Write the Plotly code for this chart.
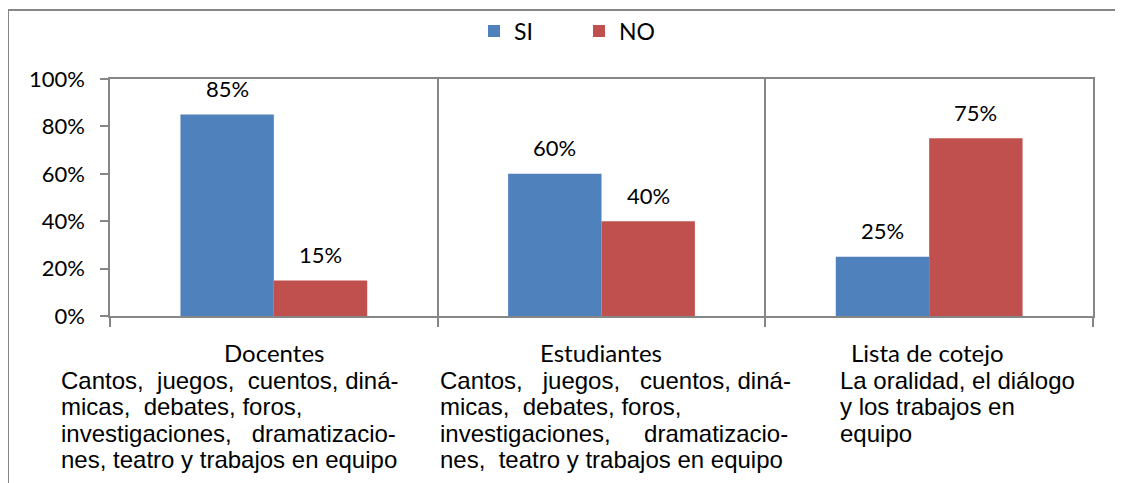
import re
import plotly.graph_objects as go

# chart data
categories = ["Docentes", "Estudiantes", "Lista de cotejo"]
si_values = [0.85, 0.60, 0.25]
no_values = [0.15, 0.40, 0.75]
series_names = ["SI", "NO"]
descriptions = [
    ["Cantos,  juegos,  cuentos, diná-",
     "micas,  debates, foros,",
     "investigaciones,   dramatizacio-",
     "nes, teatro y trabajos en equipo"],
    ["Cantos,   juegos,   cuentos, diná-",
     "micas,  debates, foros,",
     "investigaciones,     dramatizacio-",
     "nes,  teatro y trabajos en equipo"],
    ["La oralidad, el diálogo",
     "y los trabajos en",
     "equipo"],
]
ytick_vals = [0, 0.2, 0.4, 0.6, 0.8, 1.0]

# the page adds an 8px body margin, so work in page pixels minus 8
OFF = 8
W, H = 1123, 483
L, T = 110 - OFF, 79 - OFF
R = W - (1093 - OFF)
B = H - (316 - OFF)
PW, PH = W - L - R, H - T - B
GRAY = "#868686"
BLUE = "#4F81BD"
RED = "#C0504D"
CAL = "Lato, 'Open Sans', sans-serif"
ARIAL = "'Liberation Sans', Arial, sans-serif"
BARGAP = 0.43


def px_x(px):
    return (px - OFF - L) / PW


def px_y(py):
    return (H - B - (py - OFF)) / PH


def keep_spaces(s):
    # keep the justified spacing of the original text
    return re.sub(r" {2,}", lambda m: " " + "\u00a0" * (len(m.group()) - 1), s)


fig = go.Figure()
fig.add_trace(go.Bar(x=categories, y=si_values, name=series_names[0],
                     marker=dict(color=BLUE, line=dict(width=0))))
fig.add_trace(go.Bar(x=categories, y=no_values, name=series_names[1],
                     marker=dict(color=RED, line=dict(width=0))))

# data labels above bars
half_bar = PW / len(categories) * (1 - BARGAP) / 4
for cat, s, n in zip(categories, si_values, no_values):
    for val, sh in ((s, -half_bar), (n, half_bar)):
        fig.add_annotation(x=cat, y=val, xref="x", yref="y", text=f"{val:.0%}",
                           showarrow=False, xshift=sh, yshift=26, yanchor="middle",
                           font=dict(family=CAL, size=22, color="black"))

# category names and descriptions under the axis
name_x = [274, 601, 927]
desc_x = [59, 438, 838]
for i, cat in enumerate(categories):
    fig.add_annotation(x=px_x(name_x[i]), y=px_y(352), xref="paper", yref="paper",
                       text=cat, showarrow=False, xanchor="center", yanchor="middle",
                       font=dict(family=CAL, size=24, color="black"))
    for k, line in enumerate(descriptions[i]):
        fig.add_annotation(x=px_x(desc_x[i]), y=px_y(380 + 26.5 * k),
                           xref="paper", yref="paper", text=keep_spaces(line),
                           showarrow=False, xanchor="left", yanchor="middle",
                           font=dict(family=ARIAL, size=24, color="black"))

# outer chart frame (top and left edges visible)
fig.add_shape(type="line", xref="paper", yref="paper",
              x0=px_x(8), x1=px_x(1140), y0=px_y(10), y1=px_y(10),
              line=dict(color=GRAY, width=2))
fig.add_shape(type="line", xref="paper", yref="paper",
              x0=px_x(8), x1=px_x(8), y0=px_y(10), y1=px_y(500),
              line=dict(color=GRAY, width=2))

fig.update_layout(
    width=W, height=H,
    margin=dict(l=L, r=R, t=T, b=B),
    paper_bgcolor="white", plot_bgcolor="white",
    barmode="group", bargap=BARGAP, bargroupgap=0,
    font=dict(family=CAL, size=22, color="black"),
    legend=dict(orientation="h", xref="container", yref="container",
                x=(474 - OFF) / W, xanchor="left", y=1 - (31 - OFF) / H,
                yanchor="middle", font=dict(family=CAL, size=23), itemwidth=30,
                entrywidth=60, entrywidthmode="pixels",
                bgcolor="rgba(0,0,0,0)"),
    xaxis=dict(showticklabels=False, showline=True, mirror=True, linecolor=GRAY,
               linewidth=1.5, ticks="outside", tickson="boundaries", ticklen=9,
               tickcolor=GRAY, tickwidth=1.5, showgrid=True, gridcolor=GRAY,
               gridwidth=1.5),
    yaxis=dict(range=[0, 1], tickvals=ytick_vals, tickformat=".0%",
               showline=True, mirror=True, linecolor=GRAY, linewidth=1.5,
               ticks="outside", ticklen=8, tickcolor=GRAY, tickwidth=1.5,
               showgrid=False, zeroline=False, ticklabelstandoff=11,
               tickfont=dict(family=CAL, size=22)),
)

fig.write_html("out.html")
